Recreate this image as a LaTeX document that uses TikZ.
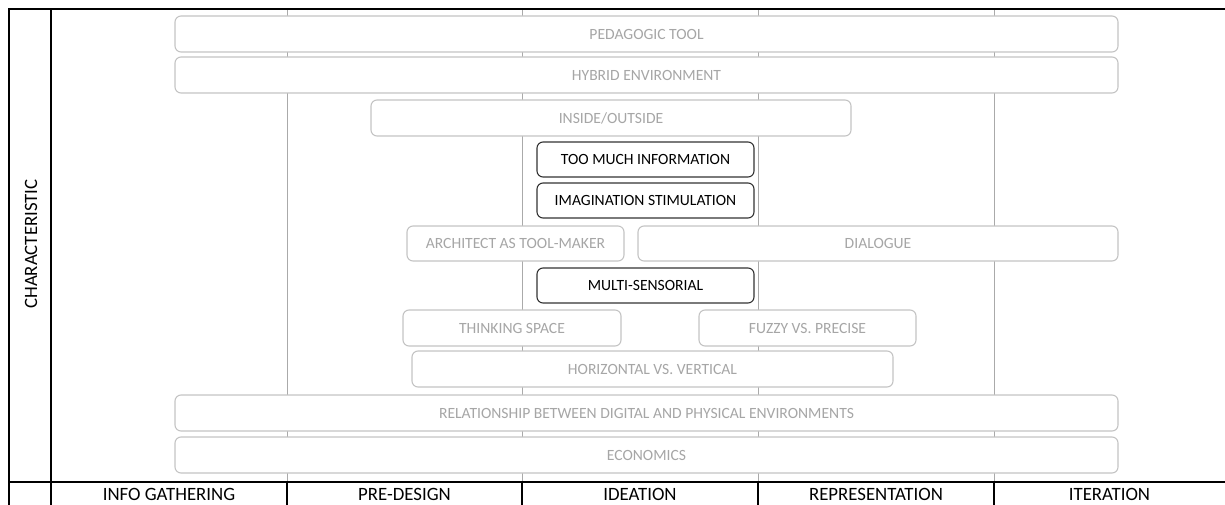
\documentclass[tikz,border=0pt]{standalone}
\usepackage{fontspec}
\setmainfont{Carlito}
\definecolor{boxgray}{RGB}{196,196,196}
\definecolor{txtgray}{RGB}{166,166,166}
\definecolor{rulegray}{RGB}{170,170,170}
\tikzset{
  trait/.style={draw=boxgray, line width=1.1pt, fill=white, rounded corners=6pt,
    text=txtgray, font=\fontsize{15.6}{17}\selectfont, inner sep=0pt},
  keytrait/.style={trait, draw=black!80, text=black},
  phase/.style={font=\fontsize{18.8}{21}\selectfont, inner sep=0pt}
}
\begin{document}
\begin{tikzpicture}[x=1pt,y=-1pt]
\useasboundingbox (0,0) rectangle (1225,505);
% column rules
\foreach \cx in {287,522,758,994}
  \draw[rulegray, line width=0.8pt] (\cx,9) -- (\cx,482);
% characteristics
\node[trait, minimum width=943pt, minimum height=36pt] (pedagogic) at (646.5,34) {PEDAGOGIC TOOL};
\node[trait, minimum width=943pt, minimum height=36pt] (hybrid) at (646.5,75) {HYBRID ENVIRONMENT};
\node[trait, minimum width=480pt, minimum height=36pt] (inside) at (611,118) {INSIDE/OUTSIDE};
\node[keytrait, minimum width=217pt, minimum height=35pt] (toomuch) at (645.5,159.5) {TOO MUCH INFORMATION};
\node[keytrait, minimum width=217pt, minimum height=35pt] (imagination) at (645.5,200.5) {IMAGINATION STIMULATION};
\node[trait, minimum width=217pt, minimum height=35pt] (toolmaker) at (515.5,243.5) {ARCHITECT AS TOOL-MAKER};
\node[trait, minimum width=480pt, minimum height=35pt] (dialogue) at (878,243.5) {DIALOGUE};
\node[keytrait, minimum width=217pt, minimum height=35pt] (multisens) at (645.5,285.5) {MULTI-SENSORIAL};
\node[trait, minimum width=218pt, minimum height=36pt] (thinking) at (512,328) {THINKING SPACE};
\node[trait, minimum width=217pt, minimum height=36pt] (fuzzy) at (807.5,328) {FUZZY VS. PRECISE};
\node[trait, minimum width=481pt, minimum height=36pt] (horizontal) at (652.5,369) {HORIZONTAL VS. VERTICAL};
\node[trait, minimum width=943pt, minimum height=36pt] (relationship) at (646.5,413) {RELATIONSHIP BETWEEN DIGITAL AND PHYSICAL ENVIRONMENTS};
\node[trait, minimum width=943pt, minimum height=36pt] (economics) at (646.5,455) {ECONOMICS};
% frame
\draw[line width=2pt] (8,9) -- (1225,9);
\draw[line width=2pt] (8,482) -- (1225,482);
\draw[line width=1.4pt] (9,9) -- (9,505);
\draw[line width=1.4pt] (51,9) -- (51,505);
\foreach \cx in {287,522,758,994}
  \draw[line width=1.2pt] (\cx,482) -- (\cx,505);
% phases
\node[phase] (info) at (169,494) {INFO GATHERING};
\node[phase] (predesign) at (404.5,494) {PRE-DESIGN};
\node[phase] (ideation) at (640,494) {IDEATION};
\node[phase] (representation) at (876,494) {REPRESENTATION};
\node[phase] (iteration) at (1109.5,494) {ITERATION};
\node[phase, rotate=90] (characteristic) at (31,244) {CHARACTERISTIC};
\end{tikzpicture}
\end{document}
